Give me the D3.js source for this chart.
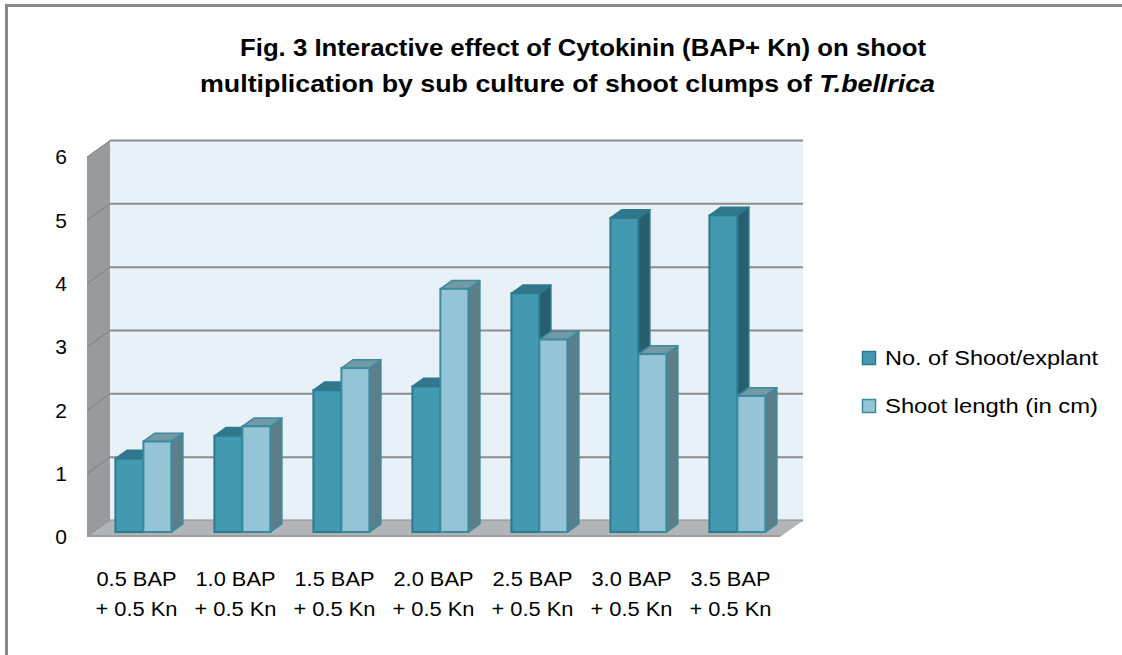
<!DOCTYPE html>
<html>
<head>
<meta charset="utf-8">
<script src="https://cdn.jsdelivr.net/npm/d3@7"></script>
<style>
  body { margin: 0; background: #fff; }
  text { font-family: "Liberation Sans", Arial, sans-serif; fill: #000; }
</style>
</head>
<body>
<div id="viz"></div>
<script>
// data
var categories = ['0.5 BAP', '1.0 BAP', '1.5 BAP', '2.0 BAP', '2.5 BAP', '3.0 BAP', '3.5 BAP'];
var subLabels = ['+ 0.5 Kn', '+ 0.5 Kn', '+ 0.5 Kn', '+ 0.5 Kn', '+ 0.5 Kn', '+ 0.5 Kn', '+ 0.5 Kn'];
var seriesNames = ['No. of Shoot/explant', 'Shoot length (in  cm)'];
var shootsPerExplant = [1.16, 1.52, 2.24, 2.30, 3.77, 4.96, 5.00];
var shootLength = [1.43, 1.67, 2.59, 3.84, 3.04, 2.81, 2.15];
var yTicks = [0, 1, 2, 3, 4, 5, 6];

var width = 1122, height = 655;

// 3d-ish oblique offsets (back wall -> front edge of floor)
var depthX = -23, depthY = 16.5;

var yScale = d3.scaleLinear().domain([0, 6]).range([520.5, 140.5]);
var xScale = d3.scaleBand().domain(categories).range([110, 803]);
var xSeries = d3.scaleBand().domain(seriesNames)
    .range([xScale.bandwidth() / 2 - 28, xScale.bandwidth() / 2 + 28]);

var fills = {
  front: ['#4399b0', '#95c4d6'],
  top:   ['#31768a', '#7399a4'],
  side:  ['#285f6f', '#5b7e88'],
  line:  ['#2c7a8f', '#3b8aa0']
};

var svg = d3.select('#viz').append('svg')
  .attr('width', width)
  .attr('height', height);

// outer frame (only left + top visible)
svg.append('path')
  .attr('d', 'M6.5,' + height + ' L6.5,5.5 L' + width + ',5.5')
  .attr('fill', 'none')
  .attr('stroke', '#8a8a8a')
  .attr('stroke-width', 3);

// title
var title = svg.append('g');
title.append('text')
  .attr('x', 240).attr('y', 56)
  .attr('textLength', 686).attr('lengthAdjust', 'spacingAndGlyphs')
  .style('font-size', '24px').style('font-weight', 'bold')
  .text('Fig. 3  Interactive effect of Cytokinin (BAP+ Kn) on shoot');
var t2 = title.append('text')
  .attr('x', 200).attr('y', 92)
  .attr('textLength', 735).attr('lengthAdjust', 'spacingAndGlyphs')
  .style('font-size', '24px').style('font-weight', 'bold');
t2.append('tspan').text('multiplication by sub culture of shoot clumps of ');
t2.append('tspan').style('font-style', 'italic').text('T.bellrica');

var x0 = xScale.range()[0], x1 = xScale.range()[1];
var y0 = yScale(6), yb = yScale(0);

// back wall
svg.append('rect')
  .attr('x', x0).attr('y', y0)
  .attr('width', x1 - x0).attr('height', yb - y0)
  .attr('fill', '#e8f0f8');

// side wall
svg.append('polygon')
  .attr('points', [[x0, y0], [x0, yb], [x0 + depthX, yb + depthY], [x0 + depthX, y0 + depthY]].join(' '))
  .attr('fill', '#979b9e');

// gridlines
svg.selectAll('.grid').data(yTicks)
  .enter().append('line')
    .attr('x1', x0).attr('x2', x1)
    .attr('y1', function(d) { return yScale(d); })
    .attr('y2', function(d) { return yScale(d); })
    .attr('stroke', '#8c8c8c')
    .attr('stroke-width', 2);

svg.selectAll('.sidegrid').data(yTicks)
  .enter().append('line')
    .attr('x1', x0).attr('x2', x0 + depthX)
    .attr('y1', function(d) { return yScale(d); })
    .attr('y2', function(d) { return yScale(d) + depthY; })
    .attr('stroke', '#7d8184')
    .attr('stroke-width', 1);

// floor
svg.append('polygon')
  .attr('points', [[x0, yb], [x1, yb], [x1 + depthX, yb + depthY], [x0 + depthX, yb + depthY]].join(' '))
  .attr('fill', '#b2b5b8');
svg.append('line')
  .attr('x1', x0 + depthX).attr('x2', x1 + depthX)
  .attr('y1', yb + depthY - 1).attr('y2', yb + depthY - 1)
  .attr('stroke', '#9a9da0').attr('stroke-width', 2);

// bars: front face sits at depth 0.7, back at 0.2 of floor depth
var dFront = 0.7, dBack = 0.2;
var bdx = depthX * (dFront - dBack), bdy = depthY * (dFront - dBack);

var rows = [];
categories.forEach(function(c, i) {
  rows.push({cat: c, s: 0, v: shootsPerExplant[i]});
  rows.push({cat: c, s: 1, v: shootLength[i]});
});

var bars = svg.selectAll('.bar').data(rows)
  .enter().append('g')
    .attr('class', 'bar')
    .attr('transform', function(d) {
      return 'translate(' + (xScale(d.cat) + xSeries(seriesNames[d.s]) + depthX * dFront) + ',' + (depthY * dFront) + ')';
    });

bars.append('polygon')
  .attr('points', function(d) {
    var w = xSeries.bandwidth(), yt = yScale(d.v), ybot = yScale(0);
    return [[w, yt], [w - bdx, yt - bdy], [w - bdx, ybot - bdy], [w, ybot]].join(' ');
  })
  .attr('fill', function(d) { return fills.side[d.s]; })
  .attr('stroke', function(d) { return fills.line[d.s]; })
  .attr('stroke-width', 1.5)
  .attr('stroke-linejoin', 'round');

bars.append('polygon')
  .attr('points', function(d) {
    var w = xSeries.bandwidth(), yt = yScale(d.v);
    return [[0, yt], [-bdx, yt - bdy], [w - bdx, yt - bdy], [w, yt]].join(' ');
  })
  .attr('fill', function(d) { return fills.top[d.s]; })
  .attr('stroke', function(d) { return fills.line[d.s]; })
  .attr('stroke-width', 1.5)
  .attr('stroke-linejoin', 'round');

bars.append('rect')
  .attr('x', 0)
  .attr('y', function(d) { return yScale(d.v); })
  .attr('width', xSeries.bandwidth())
  .attr('height', function(d) { return yScale(0) - yScale(d.v); })
  .attr('fill', function(d) { return fills.front[d.s]; })
  .attr('stroke', function(d) { return fills.line[d.s]; })
  .attr('stroke-width', 2);

// y axis labels on the front plane
var yAxis = d3.axisLeft(yScale).tickValues(yTicks).tickFormat(d3.format('d'))
  .tickSize(0).tickPadding(20);
var yg = svg.append('g')
  .attr('transform', 'translate(' + (x0 + depthX) + ',' + depthY + ')')
  .call(yAxis);
yg.select('.domain').remove();
yg.selectAll('text')
  .style('font-family', '"Liberation Sans", Arial, sans-serif')
  .style('font-size', '21px')
  .attr('fill', '#000');

// category labels under the front edge of the floor
function catX(d) { return xScale(d) + xScale.bandwidth() / 2 + depthX; }
var cl = svg.selectAll('.cat').data(categories)
  .enter().append('g')
    .attr('class', 'cat');
cl.append('text')
  .attr('text-anchor', 'middle')
  .attr('x', catX).attr('y', 586)
  .attr('textLength', 80).attr('lengthAdjust', 'spacingAndGlyphs')
  .style('font-size', '20px')
  .text(function(d) { return d; });
cl.append('text')
  .attr('text-anchor', 'middle')
  .attr('x', catX).attr('y', 616)
  .attr('textLength', 82).attr('lengthAdjust', 'spacingAndGlyphs')
  .style('font-size', '20px')
  .text(function(d, i) { return subLabels[i]; });

// legend
var legend = svg.selectAll('.legend').data(seriesNames)
  .enter().append('g')
    .attr('class', 'legend')
    .attr('transform', function(d, i) { return 'translate(862,' + (351 + i * 48) + ')'; });
legend.append('rect')
  .attr('width', 13).attr('height', 13)
  .attr('x', 0.5).attr('y', 0.5)
  .attr('fill', function(d, i) { return fills.front[i]; })
  .attr('stroke', function(d, i) { return fills.line[i]; })
  .attr('stroke-width', 1.5);
legend.append('text')
  .attr('x', 23).attr('y', 14)
  .attr('textLength', 213).attr('lengthAdjust', 'spacingAndGlyphs')
  .style('font-size', '20px')
  .text(function(d) { return d; });
</script>
</body>
</html>
